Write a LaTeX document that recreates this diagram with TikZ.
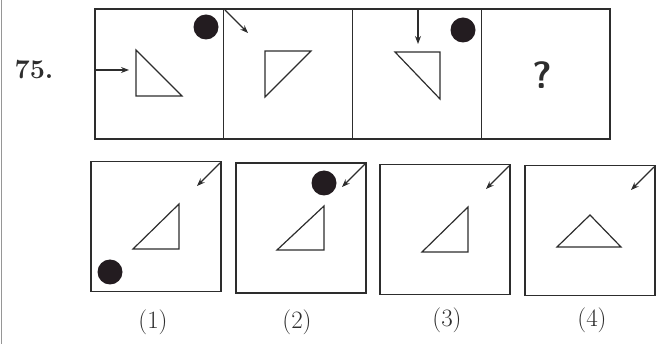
\documentclass[tikz,border=0pt]{standalone}
\usepackage{tikz}
\usetikzlibrary{arrows.meta, positioning}
\definecolor{inkgray}{RGB}{45,45,45}
\definecolor{dotblack}{RGB}{35,28,32}
\definecolor{scanedge}{RGB}{150,150,150}

\begin{document}
\begin{tikzpicture}[x=1pt, y=-1pt,
  cell/.style={draw=inkgray, line width=1.4pt, minimum width=128.75pt, minimum height=130pt, inner sep=0pt},
  choice/.style={draw=inkgray, line width=1.4pt, minimum width=130pt, minimum height=130pt, inner sep=0pt},
  tri/.style={draw=inkgray, line width=1.2pt, line join=miter},
  arr/.style={-{Stealth[length=8pt, width=6pt]}, line width=1.1pt, inkgray},
  dot/.style={circle, fill=dotblack, minimum size=25pt, inner sep=0pt},
  lbl/.style={font=\fontsize{25}{28}\selectfont, inkgray}
]
  \useasboundingbox (0,0) rectangle (664,344);
  \draw[scanedge, line width=1pt] (1.5,0) -- (1.5,344);

  % question row
  \node[font=\fontsize{27}{30}\selectfont\bfseries, inkgray] (qno) at (34,70) {75.};
  \node[cell] (q1) at (159.4,74) {};
  \node[cell] (q2) at (288.1,74) {};
  \node[cell] (q3) at (416.9,74) {};
  \node[cell] (q4) at (545.6,74) {};

  \node[dot] (d1) at (206,27) {};
  \node[dot] (d3) at (463,30) {};
  \node[font=\fontsize{38}{40}\selectfont\sffamily\bfseries, inkgray] (qm) at (542,75) {?};

  \draw[tri] (136,50) -- (136,96) -- (182,96) -- cycle;
  \draw[tri] (265,51) -- (311,51) -- (265,97) -- cycle;
  \draw[tri] (395,52) -- (440,52) -- (440,99) -- cycle;

  \coordinate (a1s) at (95,70);   \coordinate (a1e) at (129,70);
  \coordinate (a2s) at (225,10);  \coordinate (a2e) at (248,33);
  \coordinate (a3s) at (418,10);  \coordinate (a3e) at (418,44);
  \draw[arr] (a1s) -- (a1e);
  \draw[arr] (a2s) -- (a2e);
  \draw[arr] (a3s) -- (a3e);

  % answer row
  \node[choice] (c1) at (156,226.5) {};
  \node[choice] (c2) at (301,228) {};
  \node[choice] (c3) at (445,229.5) {};
  \node[choice] (c4) at (590,230.5) {};

  \node[lbl] (l1) at (153,322) {(1)};
  \node[lbl] (l2) at (297,322) {(2)};
  \node[lbl] (l3) at (447,320) {(3)};
  \node[lbl] (l4) at (592,320) {(4)};

  \node[dot] (d5) at (110,272) {};
  \node[dot] (d6) at (324,183) {};

  \draw[tri] (133,249) -- (179,249) -- (179,204) -- cycle;
  \draw[tri] (277,250) -- (324,250) -- (324,206) -- cycle;
  \draw[tri] (422,252) -- (468,252) -- (468,207) -- cycle;
  \draw[tri] (557,247) -- (621,247) -- (590,215) -- cycle;

  \coordinate (b1s) at (220,163); \coordinate (b1e) at (197,186);
  \coordinate (b2s) at (365,164); \coordinate (b2e) at (342,187);
  \coordinate (b3s) at (509,166); \coordinate (b3e) at (486,189);
  \coordinate (b4s) at (654,167); \coordinate (b4e) at (631,190);
  \draw[arr] (b1s) -- (b1e);
  \draw[arr] (b2s) -- (b2e);
  \draw[arr] (b3s) -- (b3e);
  \draw[arr] (b4s) -- (b4e);
\end{tikzpicture}
\end{document}
